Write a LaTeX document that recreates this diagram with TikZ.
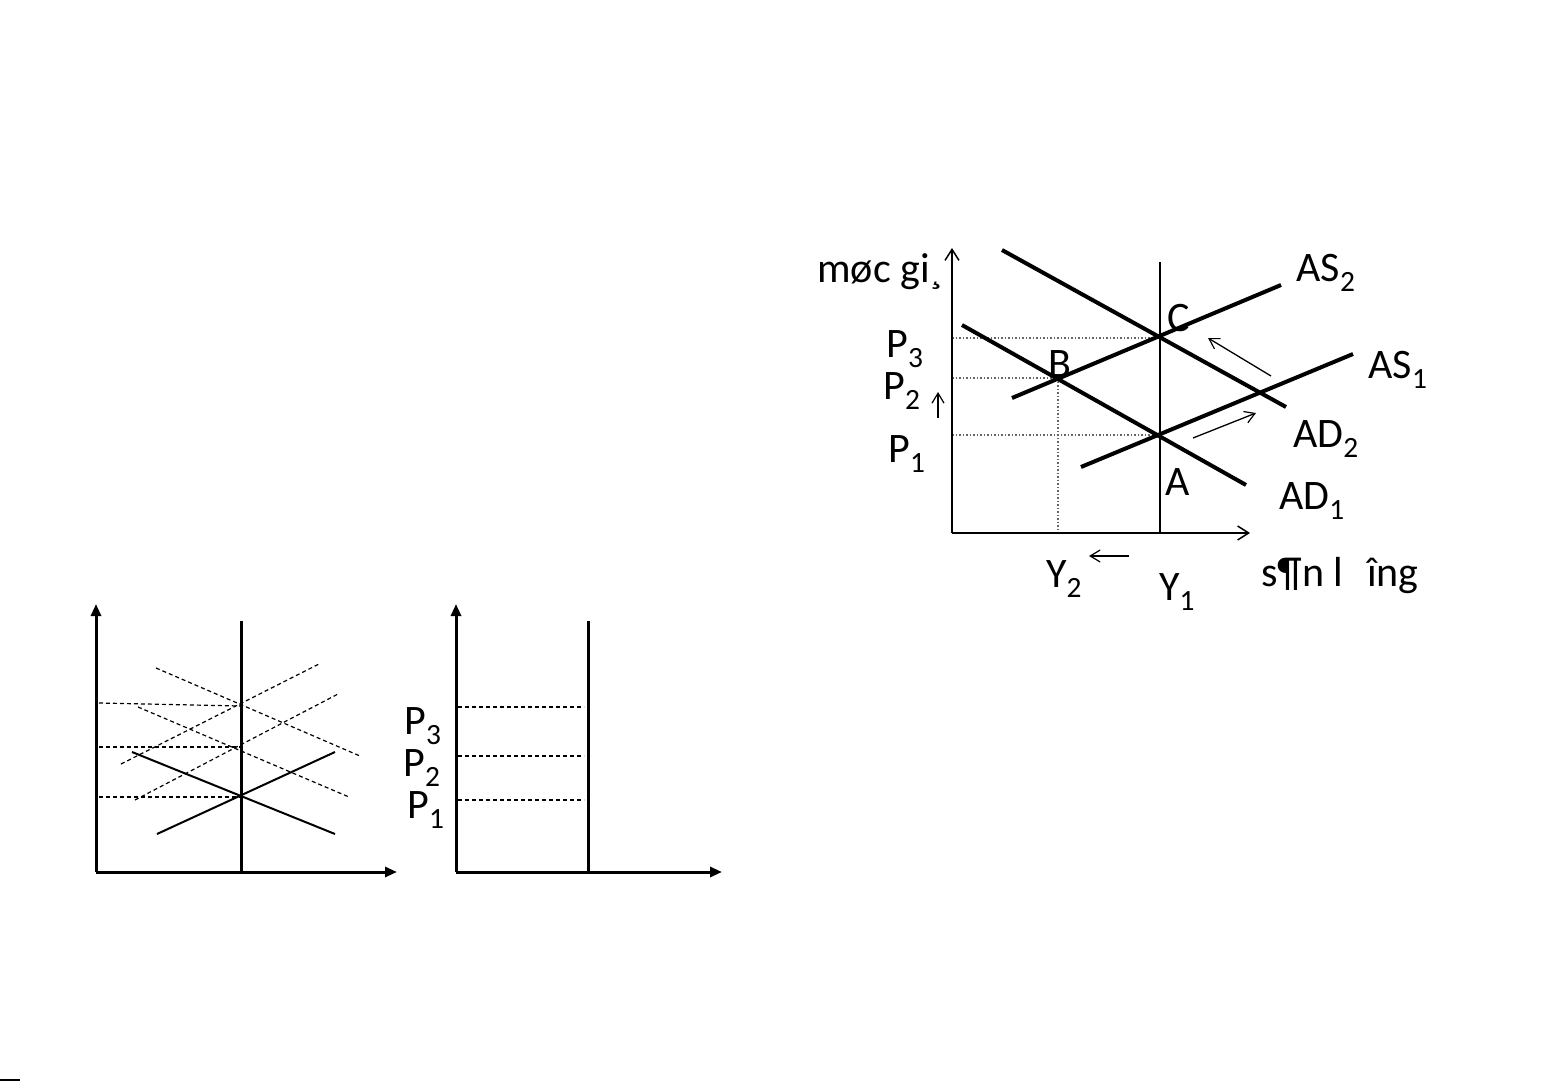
\documentclass[tikz,border=0pt]{standalone}
\usepackage{fontspec}
\setmainfont{Carlito}
\usetikzlibrary{arrows.meta}
\begin{document}
\begin{tikzpicture}[x=1pt,y=-1pt,
  thickline/.style={line width=4pt},
  axis/.style={line width=1.8pt,-{Straight Barb[length=11pt,width=14pt,line width=1.5pt]}},
  guide/.style={line width=1.2pt,gray!80!black,dash pattern=on 1.5pt off 2pt},
  small/.style={line width=1.3pt,-{Straight Barb[length=10pt,width=12pt,line width=1.2pt]}},
  lbl/.style={font=\fontsize{42}{44}\selectfont,inner sep=0pt},
  baxis/.style={line width=3pt,-{Triangle[length=12pt,width=10pt]}},
  bsolid/.style={line width=2pt},
  bdash/.style={line width=1.2pt,dash pattern=on 4pt off 3pt},
  bdashk/.style={line width=1.8pt,dash pattern=on 4pt off 3pt}]
\useasboundingbox (0,0) rectangle (1561,1081);
\fill[white] (0,0) rectangle (1561,1081);

% ===== top-right diagram =====
\coordinate (O) at (952,533);
\coordinate (Ytop) at (952,248);
\coordinate (Xend) at (1250,533);
\coordinate (V1top) at (1160,262);
\coordinate (V1bot) at (1160,533);
\coordinate (C) at (1160,338);
\coordinate (A) at (1160,435);
\coordinate (B) at (1058,378);
\coordinate (yP3) at (952,338);
\coordinate (yP2) at (952,378);
\coordinate (yP1) at (952,435);
\coordinate (xY2) at (1058,533);
\coordinate (ad2s) at (1002,250);
\coordinate (ad2e) at (1286,407);
\coordinate (ad1s) at (962,325);
\coordinate (ad1e) at (1246,485);
\coordinate (as2s) at (1012,398);
\coordinate (as2e) at (1281,285);
\coordinate (as1s) at (1081,467);
\coordinate (as1e) at (1353,354);

\draw[guide] (yP3) -- (C);
\draw[guide] (yP2) -- (B);
\draw[guide] (yP1) -- (A);
\draw[guide] (B) -- (xY2);

\draw[axis] (O) -- (Ytop);
\draw[axis] (O) -- (Xend);
\draw[line width=2.4pt] (V1bot) -- (V1top);

\draw[thickline] (ad2s) -- (ad2e);
\draw[thickline] (ad1s) -- (ad1e);
\draw[thickline] (as2s) -- (as2e);
\draw[thickline] (as1s) -- (as1e);

\coordinate (a1s) at (1271,376); \coordinate (a1e) at (1208,338);
\coordinate (a2s) at (1193,438); \coordinate (a2e) at (1256,413);
\coordinate (a3s) at (938,418); \coordinate (a3e) at (938,392);
\coordinate (a4s) at (1129,556); \coordinate (a4e) at (1089,556);
\draw[small] (a1s) -- (a1e);
\draw[small] (a2s) -- (a2e);
\draw[small] (a3s) -- (a3e);
\draw[small] (a4s) -- (a4e);

\node[lbl] (tm) at (880,272) {møc gi¸};
\node[lbl] (tP3) at (905,349) {P\textsubscript{3}};
\node[lbl] (tP2) at (902,391) {P\textsubscript{2}};
\node[lbl] (tP1) at (907,454) {P\textsubscript{1}};
\node[lbl] (tAS2) at (1326,273) {AS\textsubscript{2}};
\node[lbl] (tAS1) at (1398,370) {AS\textsubscript{1}};
\node[lbl] (tAD2) at (1326,439) {AD\textsubscript{2}};
\node[lbl] (tAD1) at (1312,501) {AD\textsubscript{1}};
\node[lbl] (tC) at (1179,318) {C};
\node[lbl] (tB) at (1060,364) {B};
\node[lbl] (tA) at (1178,482) {A};
\node[lbl] (tY2) at (1064,579) {Y\textsubscript{2}};
\node[lbl] (tY1) at (1177,592) {Y\textsubscript{1}};
\node[lbl] (tsl) at (1340,576) {s¶n l\,\, îng};

% ===== bottom-left diagram 1 =====
\coordinate (bO) at (96,872);
\coordinate (bYt) at (96,604);
\coordinate (bXe) at (397,872);
\coordinate (bVt) at (241,621);
\coordinate (bVb) at (241,872);
\coordinate (bE) at (241,797);
\draw[bdash] (99,703) -- (240,706);
\draw[bdashk] (99,747) -- (240,747);
\draw[bdash] (99,797) -- (bE);
\draw[bdash] (156,668) -- (360,756);
\draw[bdash] (121,764) -- (319,664);
\draw[bdash] (135,800) -- (338,694);
\draw[bdash] (138,707) -- (349,797);
\draw[bsolid] (132,752) -- (335,834);
\draw[bsolid] (157,834) -- (335,752);
\draw[line width=3pt] (bVb) -- (bVt);
\draw[baxis] (bO) -- (bYt);
\draw[baxis] (bO) -- (bXe);

% ===== bottom diagram 2 =====
\coordinate (cO) at (456,872);
\coordinate (cYt) at (456,604);
\coordinate (cXe) at (722,872);
\coordinate (cVt) at (588,621);
\coordinate (cVb) at (588,872);
\draw[bdash] (458,707) -- (584,707);
\draw[bdash] (458,756) -- (584,756);
\draw[bdashk] (458,800) -- (584,800);
\draw[line width=3pt] (cVb) -- (cVt);
\draw[baxis] (cO) -- (cYt);
\draw[baxis] (cO) -- (cXe);
\node[lbl] (bP3) at (423,726) {P\textsubscript{3}};
\node[lbl] (bP2) at (422,768) {P\textsubscript{2}};
\node[lbl] (bP1) at (426,810) {P\textsubscript{1}};

% bottom edge marks
\coordinate (m1) at (0,1080); \coordinate (m2) at (20,1080);
\draw[line width=1.5pt] (m1) -- (m2);
\end{tikzpicture}
\end{document}
